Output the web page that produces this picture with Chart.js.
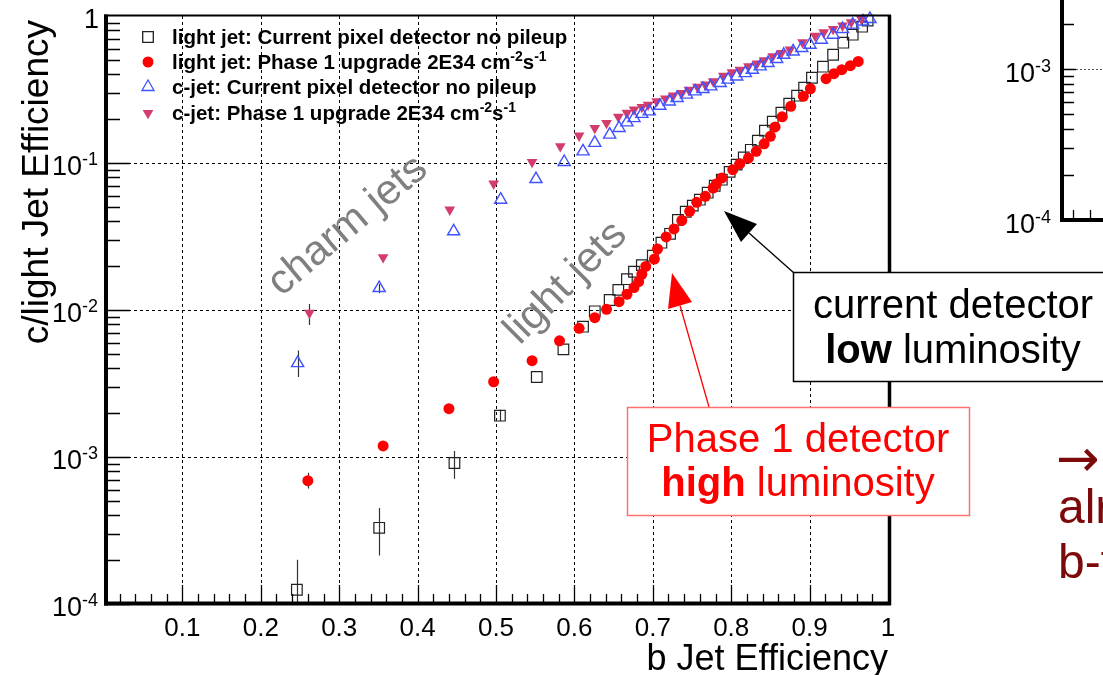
<!DOCTYPE html>
<html>
<head>
<meta charset="utf-8">
<title>b-tagging: c/light vs b jet efficiency</title>
<script src="https://cdn.jsdelivr.net/npm/chart.js@4.4.1/dist/chart.umd.min.js"></script>
<style>
  html, body { margin: 0; padding: 0; background: #fff; overflow: hidden; }
  canvas { display: block; }
</style>
</head>
<body>
<canvas id="eff-chart" width="1103" height="675"></canvas>
<script>
// values (b-jet efficiency vs c / light mistag efficiency)
const lightCurX = [0.246, 0.351, 0.447, 0.505, 0.552, 0.586, 0.611, 0.626, 0.645, 0.656, 0.667, 0.676, 0.686, 0.700, 0.711, 0.722, 0.732, 0.742, 0.751, 0.760, 0.770, 0.779, 0.788, 0.798, 0.807, 0.816, 0.825, 0.834, 0.843, 0.853, 0.864, 0.874, 0.884, 0.893, 0.903, 0.917, 0.930, 0.943, 0.955, 0.967, 0.974];
const lightCurY = [1.25e-4, 3.3e-4, 9.1e-4, 1.91e-3, 3.5e-3, 5.4e-3, 7.7e-3, 9.8e-3, 1.17e-2, 1.37e-2, 1.62e-2, 1.82e-2, 2.02e-2, 2.34e-2, 2.87e-2, 3.3e-2, 4.1e-2, 4.66e-2, 5.13e-2, 5.63e-2, 6.28e-2, 7.0e-2, 7.7e-2, 8.7e-2, 9.75e-2, 0.109, 0.123, 0.142, 0.166, 0.191, 0.22, 0.253, 0.287, 0.325, 0.38, 0.452, 0.545, 0.658, 0.746, 0.846, 0.93];
const lightCurErrLo = [7e-5, 2.14e-4, 7.1e-4, 1.75e-3];
const lightCurErrHi = [2.0e-4, 4.5e-4, 1.1e-3, 2.1e-3];

const lightP1X = [0.260, 0.356, 0.440, 0.497, 0.546, 0.581, 0.606, 0.626, 0.641, 0.657, 0.667, 0.676, 0.682, 0.686, 0.691, 0.702, 0.706, 0.717, 0.727, 0.737, 0.747, 0.756, 0.767, 0.777, 0.781, 0.788, 0.802, 0.811, 0.822, 0.832, 0.842, 0.850, 0.856, 0.865, 0.876, 0.892, 0.901, 0.921, 0.931, 0.941, 0.952, 0.962];
const lightP1Y = [6.9e-4, 1.19e-3, 2.13e-3, 3.25e-3, 4.52e-3, 6.17e-3, 7.5e-3, 8.87e-3, 1.01e-2, 1.14e-2, 1.28e-2, 1.42e-2, 1.56e-2, 1.75e-2, 1.98e-2, 2.22e-2, 2.6e-2, 3.14e-2, 3.56e-2, 4.07e-2, 4.69e-2, 5.4e-2, 5.93e-2, 6.76e-2, 7.2e-2, 7.9e-2, 9.0e-2, 9.9e-2, 0.108, 0.12, 0.135, 0.152, 0.176, 0.206, 0.243, 0.284, 0.32, 0.3745, 0.405, 0.431, 0.459, 0.491];
const lightP1ErrLo = [6.1e-4];
const lightP1ErrHi = [7.8e-4];

const cCurX = [0.247, 0.351, 0.446, 0.506, 0.551, 0.587, 0.611, 0.626, 0.645, 0.657, 0.667, 0.676, 0.686, 0.6955, 0.709, 0.721, 0.731, 0.743, 0.754, 0.764, 0.774, 0.786, 0.796, 0.807, 0.818, 0.827, 0.837, 0.847, 0.858, 0.867, 0.879, 0.890, 0.9005, 0.915, 0.930, 0.942, 0.955, 0.968, 0.977];
const cCurY = [4.35e-3, 1.41e-2, 3.43e-2, 5.63e-2, 7.78e-2, 0.1016, 0.12, 0.137, 0.156, 0.173, 0.189, 0.202, 0.216, 0.2245, 0.245, 0.262, 0.277, 0.292, 0.307, 0.319, 0.332, 0.35, 0.369, 0.388, 0.409, 0.431, 0.454, 0.479, 0.51, 0.545, 0.574, 0.606, 0.638, 0.69, 0.746, 0.816, 0.873, 0.918, 0.954];
const cCurErrLo = [3.5e-3, 1.3e-2];
const cCurErrHi = [5.3e-3, 1.5e-2];

const cP1X = [0.262, 0.356, 0.441, 0.497, 0.546, 0.582, 0.606, 0.626, 0.641, 0.656, 0.667, 0.676, 0.686, 0.694, 0.705, 0.716, 0.726, 0.737, 0.746, 0.757, 0.767, 0.777, 0.790, 0.801, 0.811, 0.822, 0.833, 0.842, 0.853, 0.864, 0.875, 0.891, 0.907, 0.918, 0.930, 0.942, 0.953, 0.966];
const cP1Y = [9.55e-3, 2.28e-2, 4.81e-2, 7.23e-2, 0.1016, 0.1297, 0.1534, 0.173, 0.187, 0.206, 0.219, 0.231, 0.2405, 0.249, 0.2625, 0.274, 0.287, 0.299, 0.315, 0.329, 0.341, 0.359, 0.392, 0.413, 0.431, 0.454, 0.474, 0.499, 0.531, 0.56, 0.59, 0.661, 0.734, 0.773, 0.816, 0.859, 0.905, 0.954];
const cP1ErrLo = [7.9e-3];
const cP1ErrHi = [1.1e-2];

// axis ticks
const xTickVals = [0.1, 0.2, 0.3, 0.4, 0.5, 0.6, 0.7, 0.8, 0.9, 1];
const xTickLabels = ['0.1', '0.2', '0.3', '0.4', '0.5', '0.6', '0.7', '0.8', '0.9', '1'];
const yTickVals = [1, 1e-1, 1e-2, 1e-3, 1e-4];
const yTickExps = ['', '-1', '-2', '-3', '-4'];

const FONT = '"Liberation Sans", Arial, Helvetica, sans-serif';

const toPts = (xs, ys) => xs.map((x, i) => ({ x: x, y: ys[i] }));

function drawPow(ctx, base, exp, xRight, baseline, size) {
  const es = Math.round(size * 0.68);
  ctx.font = size + 'px ' + FONT;
  const wb = ctx.measureText(base).width;
  ctx.font = es + 'px ' + FONT;
  const we = exp ? ctx.measureText(exp).width : 0;
  ctx.textAlign = 'left';
  ctx.textBaseline = 'alphabetic';
  ctx.font = size + 'px ' + FONT;
  ctx.fillText(base, xRight - wb - we, baseline);
  if (exp) {
    ctx.font = es + 'px ' + FONT;
    ctx.fillText(exp, xRight - we, baseline - size * 0.36);
  }
}

// text with ^{...} superscripts, left aligned
function drawSupText(ctx, str, x, baseline, size, weight) {
  const parts = str.split(/\^\{([^}]*)\}/);
  let cx = x;
  parts.forEach((p, i) => {
    if (!p) return;
    const sup = i % 2 === 1;
    const s = sup ? Math.round(size * 0.7) : size;
    ctx.font = weight + ' ' + s + 'px ' + FONT;
    ctx.fillText(p, cx, sup ? baseline - size * 0.4 : baseline);
    cx += ctx.measureText(p).width;
  });
}

function drawArrow(ctx, from, tip, b1, b2, color) {
  ctx.strokeStyle = color;
  ctx.fillStyle = color;
  ctx.lineWidth = 1.3;
  ctx.beginPath();
  ctx.moveTo(from[0], from[1]);
  ctx.lineTo((b1[0] + b2[0]) / 2, (b1[1] + b2[1]) / 2);
  ctx.stroke();
  ctx.beginPath();
  ctx.moveTo(tip[0], tip[1]);
  ctx.lineTo(b1[0], b1[1]);
  ctx.lineTo(b2[0], b2[1]);
  ctx.closePath();
  ctx.fill();
}

// two-line centred label, one word of the second line in bold
function drawBoxText(ctx, cx, y1, y2, line1, bold, rest, color, size) {
  ctx.fillStyle = color;
  ctx.textBaseline = 'alphabetic';
  ctx.textAlign = 'center';
  ctx.font = size + 'px ' + FONT;
  ctx.fillText(line1, cx, y1);
  ctx.font = 'bold ' + size + 'px ' + FONT;
  const wb = ctx.measureText(bold).width;
  ctx.font = size + 'px ' + FONT;
  const wr = ctx.measureText(rest).width;
  const x0 = cx - (wb + wr) / 2;
  ctx.textAlign = 'left';
  ctx.font = 'bold ' + size + 'px ' + FONT;
  ctx.fillText(bold, x0, y2);
  ctx.font = size + 'px ' + FONT;
  ctx.fillText(rest, x0 + wb, y2);
}

const errorBars = [
  { x: lightCurX, lo: lightCurErrLo, hi: lightCurErrHi },
  { x: lightP1X, lo: lightP1ErrLo, hi: lightP1ErrHi },
  { x: cCurX, lo: cCurErrLo, hi: cCurErrHi },
  { x: cP1X, lo: cP1ErrLo, hi: cP1ErrHi }
];

const rootStyle = {
  id: 'rootStyle',
  beforeDraw(chart) {
    const ctx = chart.ctx;
    ctx.save();
    ctx.fillStyle = '#fff';
    ctx.fillRect(0, 0, chart.width, chart.height);
    ctx.restore();
  },
  beforeDatasetsDraw(chart) {
    const { ctx, chartArea: a } = chart;
    const sx = chart.scales.x, sy = chart.scales.y;
    ctx.save();
    // dashed grid
    ctx.strokeStyle = '#000';
    ctx.lineWidth = 1;
    ctx.setLineDash([3, 3]);
    ctx.beginPath();
    xTickVals.forEach(v => {
      if (v >= 1) return;
      const p = Math.round(sx.getPixelForValue(v)) + 0.5;
      ctx.moveTo(p, a.top); ctx.lineTo(p, a.bottom);
    });
    yTickVals.forEach(v => {
      if (v >= 1 || v <= 1e-4) return;
      const p = Math.round(sy.getPixelForValue(v)) + 0.5;
      ctx.moveTo(a.left, p); ctx.lineTo(a.right, p);
    });
    ctx.stroke();
    ctx.setLineDash([]);

    // hand-written labels on the plot
    ctx.fillStyle = '#808080';
    ctx.font = '42px ' + FONT;
    ctx.textAlign = 'center';
    ctx.textBaseline = 'middle';
    ctx.save();
    ctx.translate(348, 226);
    ctx.rotate(-40 * Math.PI / 180);
    ctx.fillText('charm jets', 0, 0);
    ctx.restore();
    ctx.save();
    ctx.translate(566, 283);
    ctx.rotate(-45 * Math.PI / 180);
    ctx.fillText('light jets', 0, 0);
    ctx.restore();

    // error bars
    ctx.beginPath();
    ctx.rect(a.left, a.top, a.right - a.left, a.bottom - a.top);
    ctx.clip();
    ctx.strokeStyle = '#333';
    ctx.lineWidth = 1.2;
    ctx.beginPath();
    errorBars.forEach(e => {
      e.lo.forEach((lo, i) => {
        const p = Math.round(sx.getPixelForValue(e.x[i])) + 0.5;
        ctx.moveTo(p, sy.getPixelForValue(lo));
        ctx.lineTo(p, sy.getPixelForValue(e.hi[i]));
      });
    });
    ctx.stroke();
    ctx.restore();
  },
  afterDatasetsDraw(chart) {
    const { ctx, chartArea: a } = chart;
    const sx = chart.scales.x, sy = chart.scales.y;
    ctx.save();
    ctx.strokeStyle = '#000';
    ctx.fillStyle = '#000';
    // frame
    ctx.lineWidth = 2;
    ctx.beginPath(); ctx.moveTo(a.left, 15.5); ctx.lineTo(a.right + 3, 15.5); ctx.stroke();
    ctx.lineWidth = 3.5;
    ctx.beginPath(); ctx.moveTo(a.right + 1.5, 15); ctx.lineTo(a.right + 1.5, a.bottom + 1); ctx.stroke();
    ctx.lineWidth = 4;
    ctx.beginPath(); ctx.moveTo(a.left + 2, 14.5); ctx.lineTo(a.left + 2, a.bottom + 1.5); ctx.stroke();
    ctx.beginPath(); ctx.moveTo(a.left, a.bottom - 0.5); ctx.lineTo(a.right + 3, a.bottom - 0.5); ctx.stroke();

    // y ticks
    ctx.lineWidth = 1.3;
    ctx.beginPath();
    for (let d = -4; d < 0; d++) {
      for (let k = 1; k <= 9; k++) {
        const v = k * Math.pow(10, d);
        const p = Math.round(sy.getPixelForValue(v)) + 0.5;
        ctx.moveTo(a.left + 3, p);
        ctx.lineTo(a.left + (k === 1 ? 26 : 16), p);
      }
    }
    // x ticks
    for (let i = 1; i < 50; i++) {
      const v = i * 0.02;
      const p = Math.round(sx.getPixelForValue(v)) + 0.5;
      ctx.moveTo(p, a.bottom - 2);
      ctx.lineTo(p, a.bottom - (i % 5 === 0 ? 19 : 10));
    }
    ctx.stroke();

    // tick labels
    ctx.fillStyle = '#000';
    ctx.textBaseline = 'alphabetic';
    xTickVals.forEach((v, i) => {
      ctx.font = '26px ' + FONT;
      ctx.textAlign = 'center';
      ctx.fillText(xTickLabels[i], sx.getPixelForValue(v), 636);
    });
    yTickVals.forEach((v, i) => {
      const p = sy.getPixelForValue(v);
      if (yTickExps[i]) drawPow(ctx, '10', yTickExps[i], 98, p + 12, 27);
      else drawPow(ctx, '1', '', 99, p + 12, 27);
    });

    // axis titles
    ctx.font = '36px ' + FONT;
    ctx.textAlign = 'right';
    ctx.textBaseline = 'alphabetic';
    ctx.fillText('b Jet Efficiency', a.right, 670);
    ctx.font = '37px ' + FONT;
    ctx.save();
    ctx.translate(48, 20);
    ctx.rotate(-Math.PI / 2);
    ctx.fillText('c/light Jet Efficiency', 0, 0);
    ctx.restore();

    // legend
    const rows = [44, 69, 94, 120];
    chart.data.datasets.forEach((ds, i) => {
      const y = rows[i] - 7;
      ctx.save();
      ctx.fillStyle = ds.pointBackgroundColor;
      ctx.strokeStyle = ds.pointBorderColor;
      Chart.helpers.drawPoint(ctx, {
        pointStyle: ds.pointStyle,
        radius: ds.pointRadius,
        rotation: ds.pointRotation || 0,
        borderWidth: ds.pointBorderWidth
      }, 148, y);
      ctx.restore();
      ctx.fillStyle = '#000';
      ctx.textAlign = 'left';
      ctx.textBaseline = 'alphabetic';
      drawSupText(ctx, ds.label, 172, rows[i], 20.5, 'bold');
    });
    ctx.restore();
  },
  afterDraw(chart) {
    const ctx = chart.ctx;
    ctx.save();

    // arrows
    drawArrow(ctx, [794, 273], [724, 211], [757, 224], [741, 242], '#000');
    drawArrow(ctx, [709, 407], [672, 273], [668, 309], [692, 302], '#ff0000');

    // current detector box
    ctx.fillStyle = '#fff';
    ctx.fillRect(793, 272.5, 330, 109);
    ctx.strokeStyle = '#000';
    ctx.lineWidth = 1.5;
    ctx.strokeRect(793.5, 272.5, 330, 109);
    drawBoxText(ctx, 953, 318, 363, 'current detector', 'low', ' luminosity', '#000', 40);

    // phase 1 box
    ctx.fillStyle = '#fff';
    ctx.fillRect(627, 407, 342, 108);
    ctx.strokeStyle = '#ff7070';
    ctx.lineWidth = 1.5;
    ctx.strokeRect(627.5, 407.5, 342, 108);
    drawBoxText(ctx, 798, 452, 496, 'Phase 1 detector', 'high', ' luminosity', '#ff0000', 40);

    // neighbouring plot, cut by the slide edge
    const ly = v => 220 - 151 * (Math.log10(v) + 4);
    ctx.strokeStyle = '#000';
    ctx.lineWidth = 4;
    ctx.beginPath(); ctx.moveTo(1062, 0); ctx.lineTo(1062, 222); ctx.stroke();
    ctx.beginPath(); ctx.moveTo(1060, 220); ctx.lineTo(1103, 220); ctx.stroke();
    ctx.lineWidth = 1.3;
    ctx.beginPath();
    [2e-4, 3e-4, 4e-4, 5e-4, 6e-4, 7e-4, 8e-4, 9e-4, 1e-3, 2e-3].forEach(v => {
      const p = Math.round(ly(v)) + 0.5;
      ctx.moveTo(1064, p); ctx.lineTo(v === 1e-3 ? 1076 : 1074, p);
    });
    [1073, 1090].forEach(p => { ctx.moveTo(p + 0.5, 218); ctx.lineTo(p + 0.5, 210); });
    ctx.stroke();
    ctx.setLineDash([2, 2]);
    ctx.strokeStyle = '#555';
    ctx.lineWidth = 1;
    ctx.beginPath(); ctx.moveTo(1076, Math.round(ly(1e-3)) + 0.5); ctx.lineTo(1103, Math.round(ly(1e-3)) + 0.5); ctx.stroke();
    ctx.setLineDash([]);
    ctx.fillStyle = '#000';
    drawPow(ctx, '10', '-3', 1051, ly(1e-3) + 13, 27);
    drawPow(ctx, '10', '-4', 1051, ly(1e-4) + 13, 27);

    // slide text on the right
    ctx.fillStyle = '#7c0a0a';
    ctx.textAlign = 'left';
    ctx.textBaseline = 'alphabetic';
    ctx.font = '52px "DejaVu Sans", ' + FONT;
    ctx.fillText('\u2192', 1056, 476);
    ctx.font = '48px ' + FONT;
    ctx.fillText('already', 1058, 523);
    ctx.fillText('b-tagging', 1058, 578);
    ctx.restore();
  }
};

const chart = new Chart(document.getElementById('eff-chart').getContext('2d'), {
  type: 'scatter',
  data: {
    datasets: [
      {
        label: 'light jet: Current pixel detector no pileup',
        data: toPts(lightCurX, lightCurY),
        pointStyle: 'rect',
        pointRadius: 7.5,
        pointBorderWidth: 1.2,
        pointBackgroundColor: 'rgba(0,0,0,0)',
        pointBorderColor: '#222',
        order: 4
      },
      {
        label: 'light jet: Phase 1 upgrade 2E34 cm^{-2}s^{-1}',
        data: toPts(lightP1X, lightP1Y),
        pointStyle: 'circle',
        pointRadius: 5.5,
        pointBorderWidth: 0,
        pointBackgroundColor: '#ff0000',
        pointBorderColor: '#ff0000',
        order: 3
      },
      {
        label: 'c-jet: Current pixel detector no pileup',
        data: toPts(cCurX, cCurY),
        pointStyle: 'triangle',
        pointRadius: 7,
        pointBorderWidth: 1.4,
        pointBackgroundColor: 'rgba(0,0,0,0)',
        pointBorderColor: '#3f52ff',
        order: 1
      },
      {
        label: 'c-jet: Phase 1 upgrade 2E34 cm^{-2}s^{-1}',
        data: toPts(cP1X, cP1Y),
        pointStyle: 'triangle',
        pointRotation: 180,
        pointRadius: 6.2,
        pointBorderWidth: 0,
        pointBackgroundColor: '#d33d6c',
        pointBorderColor: '#d33d6c',
        order: 2
      }
    ]
  },
  options: {
    responsive: false,
    animation: false,
    devicePixelRatio: 1,
    clip: false,
    layout: { padding: { left: 104, right: 215, top: 16, bottom: 71 } },
    plugins: { legend: { display: false }, tooltip: { enabled: false } },
    elements: { point: { hoverRadius: 7 } },
    scales: {
      x: { type: 'linear', min: 0, max: 1, display: false },
      y: { type: 'logarithmic', min: 1e-4, max: 1, display: false }
    }
  },
  plugins: [rootStyle]
});
</script>
</body>
</html>
